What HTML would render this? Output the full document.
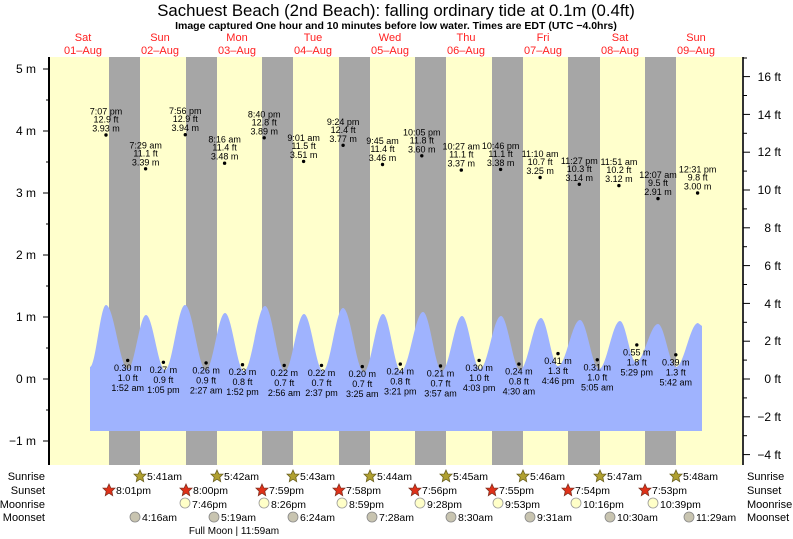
<!DOCTYPE html>
<html><head><meta charset="utf-8"><style>
html,body{margin:0;padding:0;background:#fff;}
svg{display:block;font-family:"Liberation Sans",sans-serif;}
</style></head><body>
<svg width="793" height="539" viewBox="0 0 793 539" xmlns="http://www.w3.org/2000/svg">
<rect width="793" height="539" fill="#fff"/>
<text x="396" y="16" font-size="16.8" text-anchor="middle">Sachuest Beach (2nd Beach): falling  ordinary tide at 0.1m (0.4ft)</text>
<text x="396" y="29" font-size="10.5" font-weight="bold" text-anchor="middle">Image captured One hour and 10 minutes before low water. Times are EDT (UTC −4.0hrs)</text>
<g fill="#ff2020" font-size="11" text-anchor="middle">
<text x="83" y="41">Sat</text><text x="83" y="54">01–Aug</text>
<text x="160" y="41">Sun</text><text x="160" y="54">02–Aug</text>
<text x="237" y="41">Mon</text><text x="237" y="54">03–Aug</text>
<text x="313" y="41">Tue</text><text x="313" y="54">04–Aug</text>
<text x="390" y="41">Wed</text><text x="390" y="54">05–Aug</text>
<text x="466" y="41">Thu</text><text x="466" y="54">06–Aug</text>
<text x="543" y="41">Fri</text><text x="543" y="54">07–Aug</text>
<text x="620" y="41">Sat</text><text x="620" y="54">08–Aug</text>
<text x="696" y="41">Sun</text><text x="696" y="54">09–Aug</text>
</g>
<rect x="50" y="57" width="693" height="408" fill="#ffffcc"/>
<g fill="#a6a6a6">
<rect x="109" y="57" width="31" height="408"/><rect x="186" y="57" width="31" height="408"/>
<rect x="262" y="57" width="31" height="408"/><rect x="339" y="57" width="31" height="408"/>
<rect x="415" y="57" width="31" height="408"/><rect x="492" y="57" width="31" height="408"/>
<rect x="568" y="57" width="32" height="408"/><rect x="645" y="57" width="31" height="408"/>
</g>
<path fill="#9fb3fe" d="M90,431 L90,367 C95.8,367 100.2,305 106,305 C113.9,305 120.1,369 128,369 C134.5,369 139.5,315 146,315 C152.8,315 158.2,370 165,370 C172.2,370 177.8,305 185,305 C192.6,305 198.4,370 206,370 C212.8,370 218.2,313 225,313 C231.8,313 237.2,371 244,371 C251.6,371 257.4,306 265,306 C272.2,306 277.8,371 285,371 C291.8,371 297.2,314 304,314 C310.8,314 316.2,371 323,371 C330.2,371 335.8,308 343,308 C350.6,308 356.4,372 364,372 C370.8,372 376.2,314 383,314 C389.5,314 394.5,371 401,371 C408.9,371 415.1,312 423,312 C429.8,312 435.2,371 442,371 C449.2,371 454.8,316 462,316 C468.5,316 473.5,369 480,369 C487.6,369 493.4,316 501,316 C507.8,316 513.2,370 520,370 C527.6,370 533.4,318 541,318 C547.1,318 551.9,366 558,366 C565.9,366 572.1,320 580,320 C586.8,320 592.2,369 599,369 C606.6,369 612.4,321 620,321 C625.8,321 630.2,362 636,362 C643.9,362 650.1,324 658,324 C664.5,324 669.5,367 676,367 C683.9,367 690.1,323 698,323 L702,326 L702,431 Z"/>
<line x1="49" y1="57" x2="49" y2="465" stroke="#000" stroke-width="2"/>
<line x1="743" y1="57" x2="743" y2="465" stroke="#333" stroke-width="2"/>
<g stroke="#000" stroke-width="1">
<line x1="43" y1="69" x2="49" y2="69"/><line x1="43" y1="131" x2="49" y2="131"/><line x1="43" y1="193" x2="49" y2="193"/><line x1="43" y1="255" x2="49" y2="255"/><line x1="43" y1="317" x2="49" y2="317"/><line x1="43" y1="379" x2="49" y2="379"/><line x1="43" y1="441" x2="49" y2="441"/>
<line x1="46" y1="100" x2="49" y2="100"/><line x1="46" y1="162" x2="49" y2="162"/><line x1="46" y1="224" x2="49" y2="224"/><line x1="46" y1="286" x2="49" y2="286"/><line x1="46" y1="348" x2="49" y2="348"/><line x1="46" y1="410" x2="49" y2="410"/>
<line x1="743" y1="76.6" x2="750" y2="76.6"/><line x1="743" y1="114.4" x2="750" y2="114.4"/><line x1="743" y1="152.2" x2="750" y2="152.2"/><line x1="743" y1="190" x2="750" y2="190"/><line x1="743" y1="227.8" x2="750" y2="227.8"/><line x1="743" y1="265.6" x2="750" y2="265.6"/><line x1="743" y1="303.4" x2="750" y2="303.4"/><line x1="743" y1="341.2" x2="750" y2="341.2"/><line x1="743" y1="379" x2="750" y2="379"/><line x1="743" y1="416.8" x2="750" y2="416.8"/><line x1="743" y1="454.6" x2="750" y2="454.6"/>
<line x1="743" y1="95.5" x2="747" y2="95.5"/><line x1="743" y1="133.3" x2="747" y2="133.3"/><line x1="743" y1="171.1" x2="747" y2="171.1"/><line x1="743" y1="208.9" x2="747" y2="208.9"/><line x1="743" y1="246.7" x2="747" y2="246.7"/><line x1="743" y1="284.5" x2="747" y2="284.5"/><line x1="743" y1="322.3" x2="747" y2="322.3"/><line x1="743" y1="360.1" x2="747" y2="360.1"/><line x1="743" y1="397.9" x2="747" y2="397.9"/><line x1="743" y1="435.7" x2="747" y2="435.7"/>
<line x1="743" y1="58" x2="747" y2="58"/>
</g>
<g font-size="12" text-anchor="end">
<text x="36" y="73">5 m</text><text x="36" y="135">4 m</text><text x="36" y="197">3 m</text><text x="36" y="259">2 m</text><text x="36" y="321">1 m</text><text x="36" y="383">0 m</text><text x="36" y="445">−1 m</text>
<text x="781" y="81">16 ft</text><text x="781" y="119">14 ft</text><text x="781" y="156">12 ft</text><text x="781" y="194">10 ft</text><text x="781" y="232">8 ft</text><text x="781" y="270">6 ft</text><text x="781" y="308">4 ft</text><text x="781" y="345">2 ft</text><text x="781" y="383">0 ft</text><text x="781" y="421">−2 ft</text><text x="781" y="459">−4 ft</text>
</g>
<g font-size="9" text-anchor="middle">
<circle cx="106" cy="135" r="1.7"/><text x="106" y="114.5">7:07 pm</text><text x="106" y="122.5">12.9 ft</text><text x="106" y="131.5">3.93 m</text>
<circle cx="145.6" cy="168.8" r="1.7"/><text x="145.6" y="148.3">7:29 am</text><text x="145.6" y="156.3">11.1 ft</text><text x="145.6" y="165.3">3.39 m</text>
<circle cx="185.3" cy="134.7" r="1.7"/><text x="185.3" y="114.2">7:56 pm</text><text x="185.3" y="122.2">12.9 ft</text><text x="185.3" y="131.2">3.94 m</text>
<circle cx="224.6" cy="163.2" r="1.7"/><text x="224.6" y="142.7">8:16 am</text><text x="224.6" y="150.7">11.4 ft</text><text x="224.6" y="159.7">3.48 m</text>
<circle cx="264.2" cy="137.8" r="1.7"/><text x="264.2" y="117.3">8:40 pm</text><text x="264.2" y="125.3">12.8 ft</text><text x="264.2" y="134.3">3.89 m</text>
<circle cx="303.6" cy="161.4" r="1.7"/><text x="303.6" y="140.9">9:01 am</text><text x="303.6" y="148.9">11.5 ft</text><text x="303.6" y="157.9">3.51 m</text>
<circle cx="343.1" cy="145.3" r="1.7"/><text x="343.1" y="124.8">9:24 pm</text><text x="343.1" y="132.8">12.4 ft</text><text x="343.1" y="141.8">3.77 m</text>
<circle cx="382.5" cy="164.5" r="1.7"/><text x="382.5" y="144">9:45 am</text><text x="382.5" y="152">11.4 ft</text><text x="382.5" y="161">3.46 m</text>
<circle cx="421.8" cy="155.8" r="1.7"/><text x="421.8" y="135.3">10:05 pm</text><text x="421.8" y="143.3">11.8 ft</text><text x="421.8" y="152.3">3.60 m</text>
<circle cx="461.3" cy="170.1" r="1.7"/><text x="461.3" y="149.6">10:27 am</text><text x="461.3" y="157.6">11.1 ft</text><text x="461.3" y="166.6">3.37 m</text>
<circle cx="500.6" cy="169.4" r="1.7"/><text x="500.6" y="148.9">10:46 pm</text><text x="500.6" y="156.9">11.1 ft</text><text x="500.6" y="165.9">3.38 m</text>
<circle cx="540.1" cy="177.5" r="1.7"/><text x="540.1" y="157">11:10 am</text><text x="540.1" y="165">10.7 ft</text><text x="540.1" y="174">3.25 m</text>
<circle cx="579.3" cy="184.3" r="1.7"/><text x="579.3" y="163.8">11:27 pm</text><text x="579.3" y="171.8">10.3 ft</text><text x="579.3" y="180.8">3.14 m</text>
<circle cx="618.9" cy="185.6" r="1.7"/><text x="618.9" y="165.1">11:51 am</text><text x="618.9" y="173.1">10.2 ft</text><text x="618.9" y="182.1">3.12 m</text>
<circle cx="658" cy="198.6" r="1.7"/><text x="658" y="178.1">12:07 am</text><text x="658" y="186.1">9.5 ft</text><text x="658" y="195.1">2.91 m</text>
<circle cx="697.6" cy="193" r="1.7"/><text x="697.6" y="172.5">12:31 pm</text><text x="697.6" y="180.5">9.8 ft</text><text x="697.6" y="189.5">3.00 m</text>
</g>
<g font-size="9" text-anchor="middle">
<circle cx="127.7" cy="360.4" r="1.7"/><text x="127.7" y="370.9">0.30 m</text><text x="127.7" y="380.9">1.0 ft</text><text x="127.7" y="390.9">1:52 am</text>
<circle cx="163.4" cy="362.3" r="1.7"/><text x="163.4" y="372.8">0.27 m</text><text x="163.4" y="382.8">0.9 ft</text><text x="163.4" y="392.8">1:05 pm</text>
<circle cx="206.1" cy="362.9" r="1.7"/><text x="206.1" y="373.4">0.26 m</text><text x="206.1" y="383.4">0.9 ft</text><text x="206.1" y="393.4">2:27 am</text>
<circle cx="242.5" cy="364.7" r="1.7"/><text x="242.5" y="375.2">0.23 m</text><text x="242.5" y="385.2">0.8 ft</text><text x="242.5" y="395.2">1:52 pm</text>
<circle cx="284.2" cy="365.4" r="1.7"/><text x="284.2" y="375.9">0.22 m</text><text x="284.2" y="385.9">0.7 ft</text><text x="284.2" y="395.9">2:56 am</text>
<circle cx="321.5" cy="365.4" r="1.7"/><text x="321.5" y="375.9">0.22 m</text><text x="321.5" y="385.9">0.7 ft</text><text x="321.5" y="395.9">2:37 pm</text>
<circle cx="362.3" cy="366.6" r="1.7"/><text x="362.3" y="377.1">0.20 m</text><text x="362.3" y="387.1">0.7 ft</text><text x="362.3" y="397.1">3:25 am</text>
<circle cx="400.3" cy="364.1" r="1.7"/><text x="400.3" y="374.6">0.24 m</text><text x="400.3" y="384.6">0.8 ft</text><text x="400.3" y="394.6">3:21 pm</text>
<circle cx="440.5" cy="366" r="1.7"/><text x="440.5" y="376.5">0.21 m</text><text x="440.5" y="386.5">0.7 ft</text><text x="440.5" y="396.5">3:57 am</text>
<circle cx="479.1" cy="360.4" r="1.7"/><text x="479.1" y="370.9">0.30 m</text><text x="479.1" y="380.9">1.0 ft</text><text x="479.1" y="390.9">4:03 pm</text>
<circle cx="518.9" cy="364.1" r="1.7"/><text x="518.9" y="374.6">0.24 m</text><text x="518.9" y="384.6">0.8 ft</text><text x="518.9" y="394.6">4:30 am</text>
<circle cx="558" cy="353.6" r="1.7"/><text x="558" y="364.1">0.41 m</text><text x="558" y="374.1">1.3 ft</text><text x="558" y="384.1">4:46 pm</text>
<circle cx="597.3" cy="359.8" r="1.7"/><text x="597.3" y="370.3">0.31 m</text><text x="597.3" y="380.3">1.0 ft</text><text x="597.3" y="390.3">5:05 am</text>
<circle cx="636.8" cy="344.9" r="1.7"/><text x="636.8" y="355.4">0.55 m</text><text x="636.8" y="365.4">1.8 ft</text><text x="636.8" y="375.4">5:29 pm</text>
<circle cx="675.8" cy="354.8" r="1.7"/><text x="675.8" y="365.3">0.39 m</text><text x="675.8" y="375.3">1.3 ft</text><text x="675.8" y="385.3">5:42 am</text>
</g>
<g font-size="11">
<g text-anchor="end"><text x="45" y="480">Sunrise</text><text x="45" y="494">Sunset</text><text x="45" y="508">Moonrise</text><text x="45" y="521">Moonset</text></g>
<text x="747" y="480">Sunrise</text><text x="747" y="494">Sunset</text><text x="747" y="508">Moonrise</text><text x="747" y="521">Moonset</text>
</g>
<defs>
<polygon id="star" points="0,-6 1.8,-2 6,-1.9 2.8,1.2 3.7,5.6 0,3.2 -3.7,5.6 -2.8,1.2 -6,-1.9 -1.8,-2"/>
</defs>
<g font-size="10.5">
<g fill="#b0a030" stroke="#6a6020" stroke-width="0.8">
<use href="#star" x="140" y="476"/><use href="#star" x="217" y="476"/><use href="#star" x="293" y="476"/><use href="#star" x="370" y="476"/><use href="#star" x="446" y="476"/><use href="#star" x="523" y="476"/><use href="#star" x="600" y="476"/><use href="#star" x="676" y="476"/>
</g>
<text x="147" y="480">5:41am</text><text x="224" y="480">5:42am</text><text x="300" y="480">5:43am</text><text x="377" y="480">5:44am</text><text x="453" y="480">5:45am</text><text x="530" y="480">5:46am</text><text x="607" y="480">5:47am</text><text x="683" y="480">5:48am</text>
<g fill="#e03018" stroke="#803020" stroke-width="0.8">
<use href="#star" x="109" y="490"/><use href="#star" x="186" y="490"/><use href="#star" x="262" y="490"/><use href="#star" x="339" y="490"/><use href="#star" x="415" y="490"/><use href="#star" x="492" y="490"/><use href="#star" x="568" y="490"/><use href="#star" x="645" y="490"/>
</g>
<text x="116" y="494">8:01pm</text><text x="193" y="494">8:00pm</text><text x="269" y="494">7:59pm</text><text x="346" y="494">7:58pm</text><text x="422" y="494">7:56pm</text><text x="499" y="494">7:55pm</text><text x="575" y="494">7:54pm</text><text x="652" y="494">7:53pm</text>
<g fill="#ffffc8" stroke="#999" stroke-width="0.8">
<circle cx="185" cy="503" r="5"/><circle cx="264" cy="503" r="5"/><circle cx="342" cy="503" r="5"/><circle cx="420" cy="503" r="5"/><circle cx="498" cy="503" r="5"/><circle cx="576" cy="503" r="5"/><circle cx="653" cy="503" r="5"/>
</g>
<text x="192" y="508">7:46pm</text><text x="271" y="508">8:26pm</text><text x="349" y="508">8:59pm</text><text x="427" y="508">9:28pm</text><text x="505" y="508">9:53pm</text><text x="583" y="508">10:16pm</text><text x="660" y="508">10:39pm</text>
<g fill="#c8c4b0" stroke="#888" stroke-width="0.8">
<circle cx="135" cy="517" r="5"/><circle cx="214" cy="517" r="5"/><circle cx="293" cy="517" r="5"/><circle cx="372" cy="517" r="5"/><circle cx="451" cy="517" r="5"/><circle cx="530" cy="517" r="5"/><circle cx="610" cy="517" r="5"/><circle cx="689" cy="517" r="5"/>
</g>
<text x="142" y="521">4:16am</text><text x="221" y="521">5:19am</text><text x="300" y="521">6:24am</text><text x="379" y="521">7:28am</text><text x="458" y="521">8:30am</text><text x="537" y="521">9:31am</text><text x="617" y="521">10:30am</text><text x="696" y="521">11:29am</text>
<text x="234" y="534" text-anchor="middle" font-size="10">Full Moon | 11:59am</text>
</g>
</svg>
</body></html>
